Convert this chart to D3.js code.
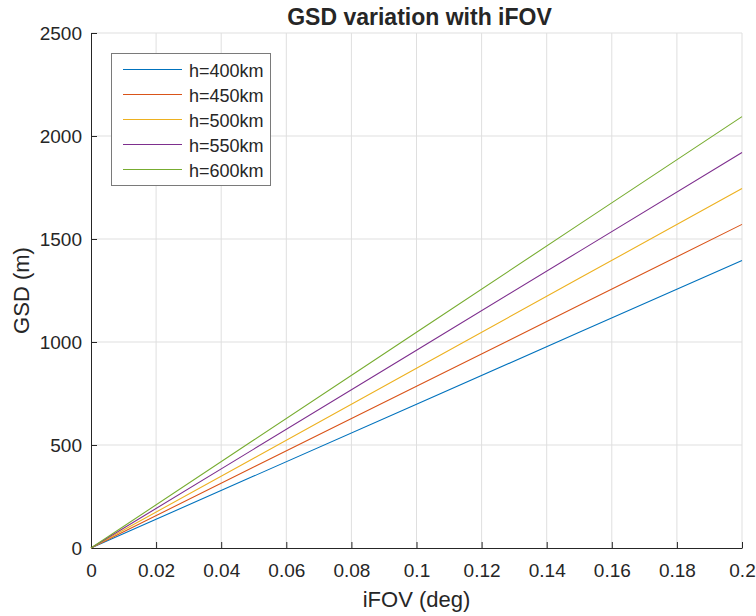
<!DOCTYPE html>
<html>
<head>
  <meta charset="utf-8">
  <title>GSD variation with iFOV</title>
  <script src="https://d3js.org/d3.v7.min.js"></script>
  <style>
    body { margin: 0; background: #fff; }
    text { font-family: "Liberation Sans", Arial, sans-serif; fill: #262626; }
  </style>
</head>
<body>
<script>
  var w = 756, h = 616;
  var margin = {top: 33, right: 14, bottom: 68, left: 91};

  // iFOV (deg) sample points and GSD (m) per altitude
  var ifov = [0, 0.05, 0.1, 0.15, 0.2];
  var seriesNames = ["h=400km", "h=450km", "h=500km", "h=550km", "h=600km"];
  var gsd400 = [0, 349, 698, 1047, 1396];
  var gsd450 = [0, 393, 785, 1178, 1571];
  var gsd500 = [0, 436, 873, 1309, 1745];
  var gsd550 = [0, 480, 960, 1440, 1920];
  var gsd600 = [0, 524, 1047, 1571, 2094];
  var colors = ["#0072BD", "#D95319", "#EDB120", "#7E2F8E", "#77AC30"];
  var xTicks = [0, 0.02, 0.04, 0.06, 0.08, 0.1, 0.12, 0.14, 0.16, 0.18, 0.2];
  var yTicks = [0, 500, 1000, 1500, 2000, 2500];

  var allSeries = [gsd400, gsd450, gsd500, gsd550, gsd600];

  var svg = d3.select("body").append("svg").attr("width", w).attr("height", h);

  var x = d3.scaleLinear().domain([0, 0.2]).range([margin.left, w - margin.right]);
  var y = d3.scaleLinear().domain([0, 2500]).range([h - margin.bottom, margin.top]);

  // grid
  svg.append("g").selectAll("line").data(xTicks.slice(1)).enter().append("line")
    .attr("x1", function(d){ return x(d); }).attr("x2", function(d){ return x(d); })
    .attr("y1", y(0)).attr("y2", y(2500))
    .attr("stroke", "#dfdfdf").attr("stroke-width", 1);
  svg.append("g").selectAll("line").data(yTicks.slice(1)).enter().append("line")
    .attr("y1", function(d){ return y(d); }).attr("y2", function(d){ return y(d); })
    .attr("x1", x(0)).attr("x2", x(0.2))
    .attr("stroke", "#dfdfdf").attr("stroke-width", 1);

  // axes
  var xAxis = d3.axisBottom(x).tickValues(xTicks).tickSizeInner(-6).tickSizeOuter(0)
    .tickFormat(function(d){ return d3.format("~g")(d); }).tickPadding(16);
  var yAxis = d3.axisLeft(y).tickValues(yTicks).tickSizeInner(-6).tickSizeOuter(0)
    .tickFormat(d3.format("d")).tickPadding(9);

  var gx = svg.append("g").attr("transform", "translate(0," + y(0) + ")").call(xAxis);
  var gy = svg.append("g").attr("transform", "translate(" + x(0) + ",0)").call(yAxis);
  [gx, gy].forEach(function(g){
    g.select(".domain").attr("stroke", "#262626");
    g.selectAll(".tick line").attr("stroke", "#262626");
    g.selectAll(".tick text").attr("font-size", 19).attr("fill", "#262626")
      .style("font-family", "'Liberation Sans', Arial, sans-serif");
  });

  // lines
  var line = d3.line()
    .x(function(d, i){ return x(ifov[i]); })
    .y(function(d){ return y(d); });
  svg.append("g").selectAll("path").data(allSeries).enter().append("path")
    .attr("d", line)
    .attr("fill", "none")
    .attr("stroke", function(d, i){ return colors[i]; })
    .attr("stroke-width", 1.1);

  // title and labels
  svg.append("text").attr("x", (x(0) + x(0.2)) / 2 + 3).attr("y", 25)
    .attr("text-anchor", "middle").attr("font-size", 23).attr("font-weight", "bold")
    .attr("fill", "#000").text("GSD variation with iFOV");
  svg.append("text").attr("x", (x(0) + x(0.2)) / 2).attr("y", 607)
    .attr("text-anchor", "middle").attr("font-size", 22).text("iFOV (deg)");
  svg.append("text").attr("transform", "translate(29," + ((y(0) + y(2500)) / 2) + ") rotate(-90)")
    .attr("text-anchor", "middle").attr("font-size", 22).text("GSD (m)");

  // legend
  var lg = svg.append("g");
  lg.append("rect").attr("x", 111.5).attr("y", 53.5).attr("width", 159).attr("height", 132)
    .attr("fill", "#fff").attr("stroke", "#7a7a7a").attr("stroke-width", 1);
  var rows = lg.selectAll("g.row").data(seriesNames).enter().append("g")
    .attr("transform", function(d, i){ return "translate(0," + (69.5 + i * 25) + ")"; });
  rows.append("line").attr("x1", 123).attr("x2", 182).attr("y1", 0).attr("y2", 0)
    .attr("stroke", function(d, i){ return colors[i]; }).attr("stroke-width", 1.1);
  rows.append("text").attr("x", 189).attr("y", 7.5).attr("font-size", 18)
    .attr("fill", "#000").text(function(d){ return d; });
</script>
</body>
</html>
